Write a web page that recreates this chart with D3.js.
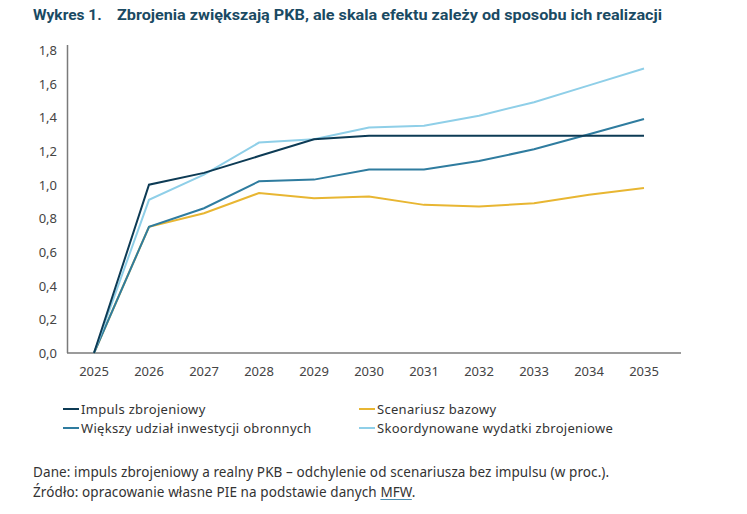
<!DOCTYPE html>
<html>
<head>
<meta charset="utf-8">
<script src="https://cdn.jsdelivr.net/npm/d3@7"></script>
<style>
  body { margin: 0; background: #fff; }
  svg { display: block; font-family: 'Noto Sans', sans-serif; }
</style>
</head>
<body>
<div id="chart"></div>
<script>
const WIDTH = 747;
const HEIGHT = 514;

const years = [2025, 2026, 2027, 2028, 2029, 2030, 2031, 2032, 2033, 2034, 2035];
const yTicks = [0, 0.2, 0.4, 0.6, 0.8, 1.0, 1.2, 1.4, 1.6, 1.8];

const impuls = [0, 1.0, 1.07, 1.17, 1.27, 1.29, 1.29, 1.29, 1.29, 1.29, 1.29];
const bazowy = [0, 0.75, 0.83, 0.95, 0.92, 0.93, 0.88, 0.87, 0.89, 0.94, 0.98];
const wiekszy = [0, 0.75, 0.86, 1.02, 1.03, 1.09, 1.09, 1.14, 1.21, 1.30, 1.39];
const skoord = [0, 0.91, 1.06, 1.25, 1.27, 1.34, 1.35, 1.41, 1.49, 1.59, 1.69];

const seriesNames = [
  'Impuls zbrojeniowy',
  'Scenariusz bazowy',
  'Większy udział inwestycji obronnych',
  'Skoordynowane wydatki zbrojeniowe'
];
const seriesValues = [impuls, bazowy, wiekszy, skoord];
const seriesColors = ['#0d3b55', '#e8b632', '#2f7c9f', '#8fcfe8'];
// draw order: back to front
const drawOrder = [1, 2, 3, 0];

const svg = d3
  .select('#chart')
  .append('svg')
  .attr('width', WIDTH)
  .attr('height', HEIGHT);

// title
const titleStyle = (sel) =>
  sel
    .attr('y', 20)
    .style('font-family', 'Roboto, sans-serif')
    .style('font-weight', 700)
    .style('font-size', '15.5px')
    .style('fill', '#1a4a63');
svg.append('text').call(titleStyle).attr('x', 33).text('Wykres 1.');
svg
  .append('text')
  .call(titleStyle)
  .attr('x', 117)
  .attr('textLength', 545)
  .attr('lengthAdjust', 'spacingAndGlyphs')
  .text('Zbrojenia zwiększają PKB, ale skala efektu zależy od sposobu ich realizacji');

const x = d3.scalePoint().domain(years).range([94, 644]);
const y = d3.scaleLinear().domain([0, 1.8]).range([353, 50]);

// axes lines
svg
  .append('line')
  .attr('x1', 67.5)
  .attr('x2', 67.5)
  .attr('y1', 45)
  .attr('y2', y(0))
  .attr('stroke', '#7a7a7a')
  .attr('stroke-width', 1.5);
svg
  .append('line')
  .attr('x1', 67)
  .attr('x2', 681)
  .attr('y1', y(0))
  .attr('y2', y(0))
  .attr('stroke', '#7a7a7a')
  .attr('stroke-width', 1.5);

// y tick labels
svg
  .selectAll('text.ytick')
  .data(yTicks)
  .join('text')
  .attr('class', 'ytick')
  .attr('x', 57)
  .attr('y', (d) => y(d))
  .attr('dy', '0.38em')
  .style('text-anchor', 'end')
  .style('font-size', '13px')
  .style('fill', '#444')
  .text((d) => d3.format('.1f')(d).replace('.', ','));

// x tick labels
svg
  .selectAll('text.xtick')
  .data(years)
  .join('text')
  .attr('class', 'xtick')
  .attr('x', (d) => x(d))
  .attr('y', 376)
  .style('text-anchor', 'middle')
  .style('font-size', '13px')
  .style('fill', '#444')
  .text((d) => d);

// lines
const line = d3
  .line()
  .x((d, i) => x(years[i]))
  .y((d) => y(d));

svg
  .selectAll('path.series')
  .data(drawOrder)
  .join('path')
  .attr('class', 'series')
  .attr('d', (k) => line(seriesValues[k]))
  .attr('fill', 'none')
  .attr('stroke', (k) => seriesColors[k])
  .attr('stroke-width', 2);

// legend
const legendPos = [
  { x: 63, y: 409 },
  { x: 359, y: 409 },
  { x: 63, y: 428 },
  { x: 359, y: 428 }
];
const gLegend = svg
  .selectAll('g.legend')
  .data(seriesNames)
  .join('g')
  .attr('class', 'legend')
  .attr('transform', (d, i) => 'translate(' + legendPos[i].x + ',' + legendPos[i].y + ')');
gLegend
  .append('line')
  .attr('x1', 0)
  .attr('x2', 16)
  .attr('stroke', (d, i) => seriesColors[i])
  .attr('stroke-width', 2);
gLegend
  .append('text')
  .attr('x', 18)
  .attr('dy', '0.35em')
  .style('font-size', '13px')
  .style('letter-spacing', '0.3px')
  .style('fill', '#333')
  .text((d) => d);

// footer
svg
  .append('text')
  .attr('x', 33)
  .attr('y', 477)
  .style('font-size', '13.5px')
  .style('letter-spacing', '0.1px')
  .style('fill', '#333')
  .text('Dane: impuls zbrojeniowy a realny PKB – odchylenie od scenariusza bez impulsu (w proc.).');
const src = svg
  .append('text')
  .attr('x', 33)
  .attr('y', 497)
  .style('font-size', '13.5px')
  .style('letter-spacing', '0.1px')
  .style('fill', '#333');
src.append('tspan').text('Źródło: opracowanie własne PIE na podstawie danych ');
src.append('tspan').attr('id', 'mfw').text('MFW');
src.append('tspan').text('.');

// underline for MFW
const mfw = document.getElementById('mfw');
const start = mfw.getStartPositionOfChar(0).x;
const end = mfw.getEndPositionOfChar(2).x;
svg
  .append('line')
  .attr('x1', start)
  .attr('x2', end)
  .attr('y1', 499.5)
  .attr('y2', 499.5)
  .attr('stroke', '#4a8db0')
  .attr('stroke-width', 1);
</script>
</body>
</html>
